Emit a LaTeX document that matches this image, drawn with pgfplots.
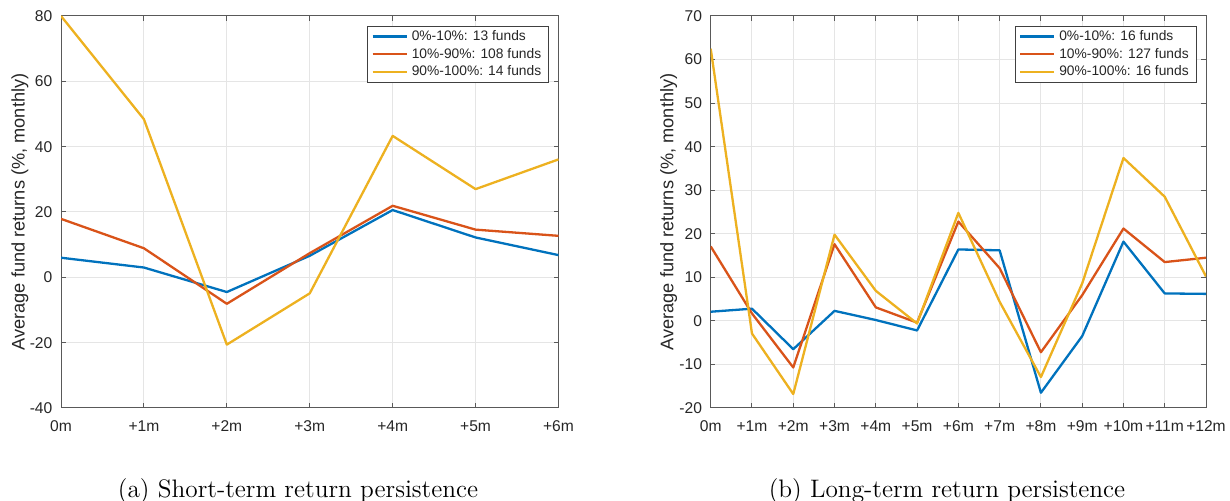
\documentclass[border=0pt]{standalone}
\usepackage{fontspec}
\usepackage{pgfplots}
\pgfplotsset{compat=1.18}
\newfontfamily\hv{Liberation Sans}
\definecolor{mblue}{rgb}{0,0.447,0.741}
\definecolor{mred}{rgb}{0.85,0.325,0.098}
\definecolor{myel}{rgb}{0.929,0.694,0.125}
\definecolor{maxis}{rgb}{0.15,0.15,0.15}

\pgfplotsset{
  mstyle/.style={
    scale only axis,
    height=196pt,
    xmajorgrids, ymajorgrids,
    grid style={color=black!10, line width=0.5pt},
    axis line style={black!65, line width=0.5pt},
    tick style={black!65, line width=0.5pt},
    major tick length=2.35pt,
    tick align=inside,
    xtick=data,
    /pgf/number format/assume math mode=true,
    tick label style={font=\hv\fontsize{7.8}{9}\selectfont, text=maxis},
    xticklabel style={yshift=-3.0pt},
    yticklabel style={xshift=-0.8pt},
    every axis y label/.style={rotate=90, anchor=center, font=\hv\fontsize{9.1}{10}\selectfont, text=maxis},
    every axis plot/.append style={line width=1.15pt, line join=round},
    legend cell align=left,
    legend image code/.code={\draw[##1] (0pt,0pt) -- (17pt,0pt);},
    legend style={
      at={(1,1)}, anchor=north east, xshift=-4.6pt, yshift=-4.85pt,
      draw=black!75, line width=0.5pt, fill=white,
      inner xsep=1.8pt, inner ysep=0.7pt,
      font=\hv\fontsize{6.9}{9}\selectfont, text=maxis,
      nodes={inner xsep=2pt, inner ysep=0.8pt, text height=5.6pt, text depth=1.7pt},
      row sep=0pt,
    },
  }
}

\begin{document}
\begin{tikzpicture}
\useasboundingbox (0,0) rectangle (615pt,250.5pt);

\begin{axis}[mstyle,
  at={(30.5pt,46.5pt)}, anchor=south west,
  width=248.75pt,
  xmin=0, xmax=6, ymin=-40, ymax=80,
  ytick={-40,-20,0,20,40,60,80},
  xticklabels={0m,+1m,+2m,+3m,+4m,+5m,+6m},
  ylabel={Average fund returns (\%, monthly)},
  ylabel style={at={(axis description cs:-0.0824,0.5)}},
]
\addplot[mblue] coordinates {(0,6.0) (1,3.0) (2,-4.5) (3,6.6) (4,20.6) (5,12.2) (6,6.8)};
\addlegendentry{0\%-10\%: 13 funds}
\addplot[mred] coordinates {(0,17.9) (1,8.9) (2,-8.1) (3,7.4) (4,21.9) (5,14.6) (6,12.7)};
\addlegendentry{10\%-90\%: 108 funds}
\addplot[myel] coordinates {(0,80) (1,48.4) (2,-20.6) (3,-4.9) (4,43.3) (5,27.0) (6,36.1)};
\addlegendentry{90\%-100\%: 14 funds}
\end{axis}

\begin{axis}[mstyle,
  at={(355.35pt,46.5pt)}, anchor=south west,
  width=247.65pt,
  xmin=0, xmax=12, ymin=-20, ymax=70,
  ytick={-20,-10,0,10,20,30,40,50,60,70},
  xticklabels={0m,+1m,+2m,+3m,+4m,+5m,+6m,+7m,+8m,+9m,+10m,+11m,+12m},
  ylabel={Average fund returns (\%, monthly)},
  ylabel style={at={(axis description cs:-0.0848,0.5)}},
]
\addplot[mblue] coordinates {(0,2.1) (1,2.8) (2,-6.5) (3,2.3) (4,0.2) (5,-2.2) (6,16.4) (7,16.2) (8,-16.5) (9,-3.5) (10,18.2) (11,6.3) (12,6.2)};
\addlegendentry{0\%-10\%: 16 funds}
\addplot[mred] coordinates {(0,17.1) (1,1.7) (2,-10.7) (3,17.6) (4,3.1) (5,-0.4) (6,22.8) (7,12.1) (8,-7.2) (9,5.9) (10,21.2) (11,13.5) (12,14.5)};
\addlegendentry{10\%-90\%: 127 funds}
\addplot[myel] coordinates {(0,62.5) (1,-2.9) (2,-16.8) (3,19.8) (4,6.9) (5,-0.6) (6,24.8) (7,4.4) (8,-12.9) (9,8.6) (10,37.4) (11,28.5) (12,10.2)};
\addlegendentry{90\%-100\%: 16 funds}
\end{axis}

\node[anchor=base, font=\fontsize{12.65}{15}\selectfont] at (149pt,1.85pt) {(a) Short-term return persistence};
\node[anchor=base, font=\fontsize{12.65}{15}\selectfont] at (473.5pt,1.85pt) {(b) Long-term return persistence};
\end{tikzpicture}
\end{document}
